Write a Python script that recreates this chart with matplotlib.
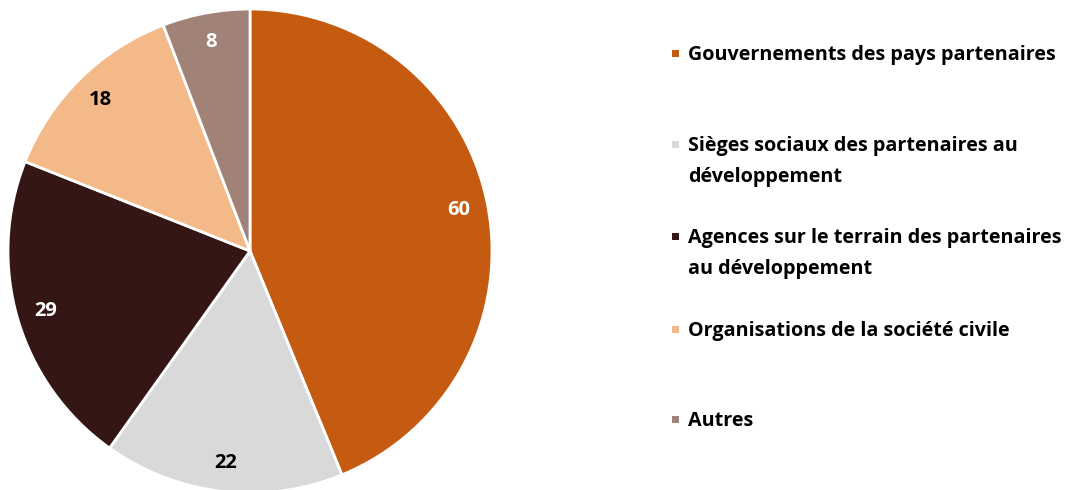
import matplotlib

matplotlib.use("Agg")
import matplotlib.pyplot as plt
from matplotlib.patches import Rectangle

categories = [
    "Gouvernements des pays partenaires",
    "Sièges sociaux des partenaires au\ndéveloppement",
    "Agences sur le terrain des partenaires\nau développement",
    "Organisations de la société civile",
    "Autres",
]
values = [60, 22, 29, 18, 8]
colors = ["#C55A11", "#D9D9D9", "#341714", "#F4B988", "#A08277"]
label_colors = ["white", "black", "white", "black", "white"]

plt.rcParams["font.family"] = ["Open Sans", "DejaVu Sans"]

fig = plt.figure(figsize=(10.66, 4.9), dpi=100)
W, H = 1066, 490
cx, cy, r = 250, 251, 242
ax = fig.add_axes([(cx - r) / W, (H - cy - r) / H, 2 * r / W, 2 * r / H])

total = sum(values)
wedges, _, autotexts = ax.pie(
    values,
    colors=colors,
    startangle=90,
    counterclock=False,
    radius=1.0,
    autopct=lambda p: f"{round(p * total / 100):d}",
    pctdistance=0.88,
    wedgeprops={"edgecolor": "white", "linewidth": 2.0},
    textprops={"fontsize": 14.5, "fontweight": "bold"},
)
for t, c in zip(autotexts, label_colors):
    t.set_color(c)
ax.set_xlim(-1, 1)
ax.set_ylim(-1, 1)
ax.set_aspect("equal")
ax.axis("off")

# legend, built by hand to keep the even spacing of the original
legend_tops = [54, 145, 237, 330, 420]
for label, color, y in zip(categories, colors, legend_tops):
    fig.patches.append(
        Rectangle((672 / W, 1 - (y + 3) / H), 7 / W, 7 / H, transform=fig.transFigure,
                  facecolor=color, edgecolor="none")
    )
    fig.text(688 / W, 1 - (y - 9) / H, label, fontsize=14.2, fontweight="bold", color="black",
             ha="left", va="top", linespacing=1.72)
fig.savefig("out.png", dpi=100)
